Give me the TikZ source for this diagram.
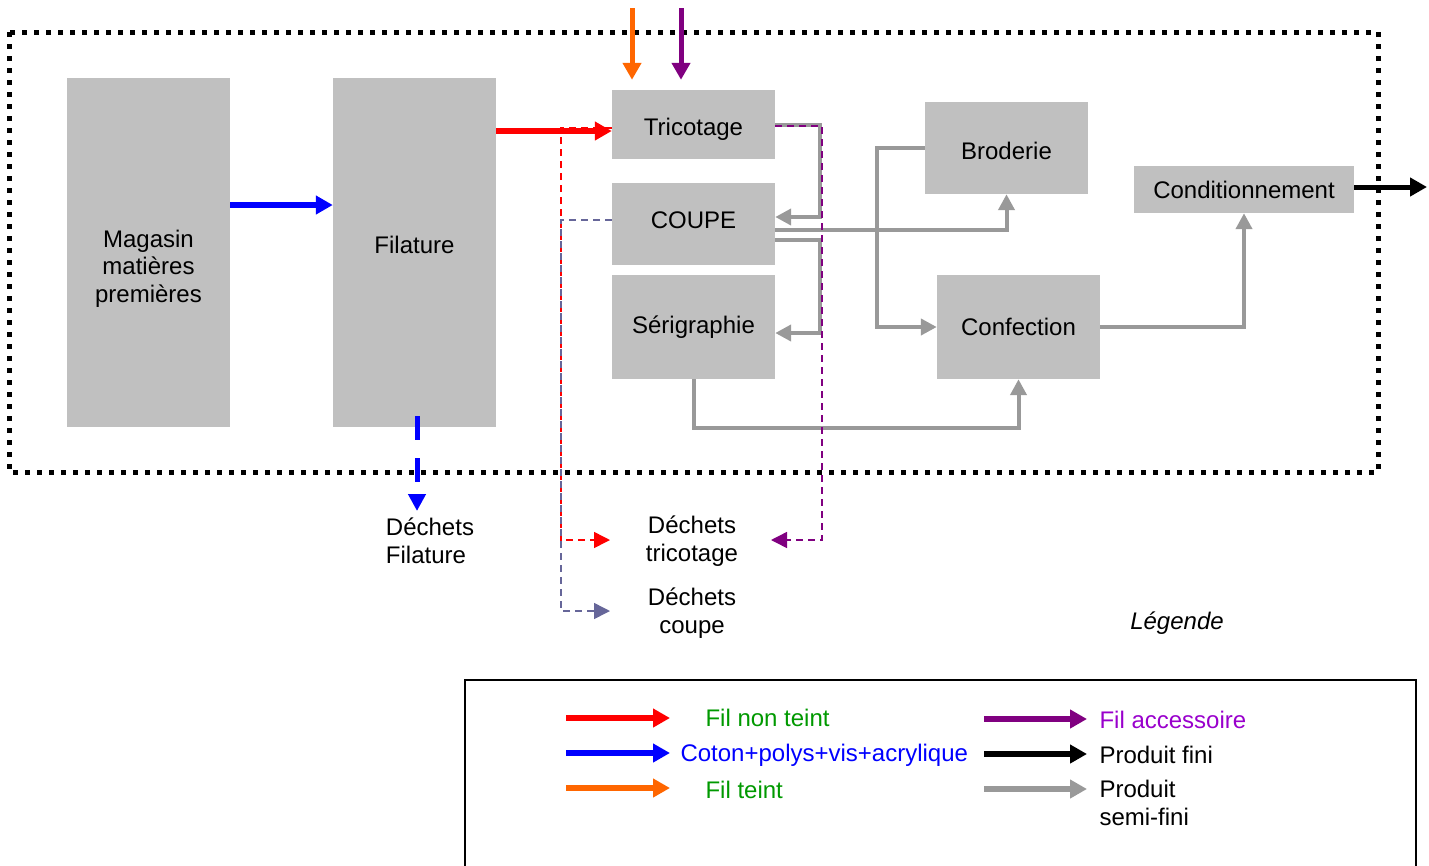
\documentclass[tikz,border=0pt]{standalone}
\usepackage{fontspec}
\setmainfont{Liberation Sans}
\usetikzlibrary{arrows.meta}
\definecolor{gbox}{HTML}{C0C0C0}
\definecolor{gline}{HTML}{999999}
\definecolor{fvert}{HTML}{009900}
\definecolor{fpurple}{HTML}{800080}
\definecolor{fmauve}{HTML}{9900CC}
\definecolor{forange}{HTML}{FF6600}
\definecolor{fslate}{HTML}{666699}
\begin{document}
\begin{tikzpicture}[x=1pt,y=-1pt,font=\fontsize{24}{27.5}\selectfont,
	flux/.style={line width=6pt,-{Triangle[length=17pt,width=18pt]}},
	gris/.style={draw=gline,line width=4pt,-{Triangle[length=16pt,width=16pt]}},
	dechet/.style={line width=1.5pt,dash pattern=on 7pt off 5pt,-{Triangle[length=16pt,width=16pt]}}]
	\useasboundingbox (0,0) rectangle (1429,865);
	\draw [line width=5pt,dash pattern=on 5pt off 7pt] (9,32) rectangle (1378,472);
	\begin{scope}[every node/.style={fill=gbox,inner sep=0pt,align=center}]
	\node[minimum width=163pt,minimum height=349pt,label={[yshift=-16pt]center:Magasin\\matières\\premières}] (M) at (148.5,252.5) {};
	\node[minimum width=163pt,minimum height=349pt,label={[yshift=8pt]center:Filature}] (F) at (414.5,252.5) {};
	\node[minimum width=163pt,minimum height=69pt,text height=27pt] (T) at (693.5,124.5) {Tricotage};
	\node[minimum width=163pt,minimum height=82pt,text depth=8pt] (C) at (693.5,224) {COUPE};
	\node[minimum width=163pt,minimum height=104pt] (S) at (693.5,327) {Sérigraphie};
	\node[minimum width=163pt,minimum height=92pt,text height=23pt] (B) at (1006.5,148) {Broderie};
	\node[minimum width=163pt,minimum height=104pt] (K) at (1018.5,327) {Confection};
	\node[minimum width=220pt,minimum height=47pt] (P) at (1244,189.5) {Conditionnement};
	\end{scope}
	\node[align=left] (DF) at (430,541) {Déchets\\Filature};
	\node[align=center] (DT) at (692,541) {Déchets\\tricotage};
	\node[align=center] (DC) at (692,613) {Déchets\\coupe};
	\node (L) at (1177,623) {\itshape Légende};
	\coordinate (dfil) at (417,511);
	\coordinate (dt1) at (610,540);
	\coordinate (dt2) at (771,540);
	\coordinate (dc) at (610,611);
	\coordinate (out) at (1427,187);
	\coordinate (o1) at (632,8);
	\coordinate (p1) at (681,8);
	% flux principal
	\draw [flux,blue] (M.east |- 0,205) -- (F.west |- 0,205);
	\draw [flux,red] (F.east |- 0,131) -- (T.west |- 0,131);
	\draw [flux,forange,line width=5pt,shorten >=10pt] (o1) -- (o1 |- T.north);
	\draw [flux,fpurple,line width=5pt,shorten >=10pt] (p1) -- (p1 |- T.north);
	\draw [flux,line width=5pt] (P.east |- out) -- (out);
	\draw [blue,line width=5pt,dash pattern=on 24pt off 18pt,-{Triangle[length=17pt,width=17pt]}] (dfil |- 0,416) -- (dfil);
	% produits semi-finis
	\draw [gris] (T.east |- 0,125) -| (820,217) -- (C.east |- 0,217);
	\draw [gris] (C.east |- 0,240) -| (820,333) -- (S.east |- 0,333);
	\draw [gris] (C.east |- 0,230) -| (B.south);
	\draw [gris] (B.west) -- ++(-48,0) |- (K.west);
	\draw [gris] (S.south) -- ++(0,49) -| (K.south);
	\draw [gris] (K.east) -| (P.south);
	% dechets
	\draw [dechet,red] (T.west |- 0,128) -| (561,540) -- (dt1);
	\draw [dechet,fslate] (C.west |- 0,220) -| (561,611) -- (dc);
	\draw [dechet,fpurple] (T.east |- 0,126) -| (822,540) -- (dt2);
	% legende
	\draw [line width=1.2pt] (465,680) rectangle (1416,870);
	\draw [flux,red] (566,718) -- (670,718);
	\draw [flux,blue] (566,753) -- (670,753);
	\draw [flux,forange] (566,788) -- (670,788);
	\draw [flux,fpurple] (984,719) -- (1087,719);
	\draw [flux,black] (984,754) -- (1087,754);
	\draw [flux,gline] (984,789) -- (1087,789);
	\node[anchor=west,text=fvert] (l1) at (702,718) {Fil non teint};
	\node[anchor=west,text=blue] (l2) at (677,755) {Coton+polys+vis+acrylique};
	\node[anchor=west,text=fvert] (l3) at (702,790) {Fil teint};
	\node[anchor=west,text=fmauve] (l4) at (1096,720) {Fil accessoire};
	\node[anchor=west] (l5) at (1096,755) {Produit fini};
	\node[anchor=west,align=left] (l6) at (1096,803) {Produit\\semi-fini};
\end{tikzpicture}
\end{document}
